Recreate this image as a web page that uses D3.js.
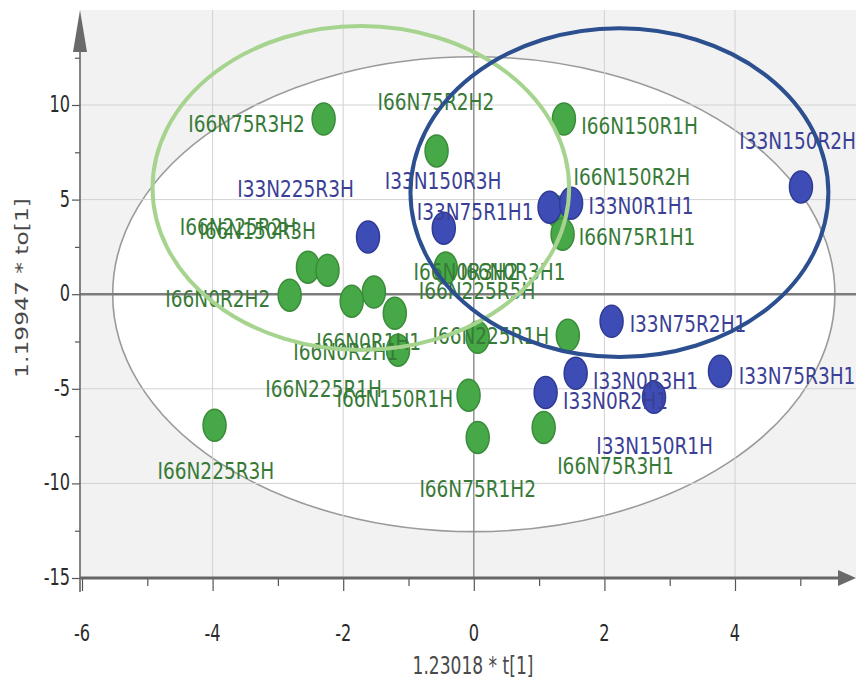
<!DOCTYPE html>
<html><head><meta charset="utf-8">
<script src="https://cdn.jsdelivr.net/npm/d3@7"></script>
<style>body{margin:0;background:#fff}svg{display:block}</style>
</head><body>
<svg id="chart" width="856" height="697"></svg>
<script>
// ---------- data (score values t[1], to[1]) ----------
const greenNames = ["I66N75R3H2","I66N75R2H2","I66N150R1H","I66N150R2H","I66N75R1H1","I66N225R2H","I66N150R3H","I66N0R2H2","I66N0R2H1","I66N0R1H1","I66N225R5H","I66N225R1H","I66N0R3H2","I66N225R1H","I66N0R3H1","I66N150R1H","I66N75R1H2","I66N75R3H1","I66N225R3H"];
const greenT = [-2.30,-0.57,1.38,1.29,1.36,-2.54,-2.24,-2.82,-1.87,-1.53,-1.21,-1.16,-0.43,0.06,1.44,-0.08,0.06,1.07,-3.97];
const greenO = [9.26,7.57,9.26,4.34,3.17,1.43,1.27,-0.05,-0.37,0.11,-1.01,-2.96,1.38,-2.28,-2.17,-5.34,-7.57,-7.04,-6.93];
const greenLabelT = [-3.48,-0.58,2.54,2.42,2.50,-3.61,-3.31,-3.92,-1.96,-1.61,0.05,-2.30,-0.12,0.26,0.60,-1.21,0.06,2.17,-3.95];
const greenLabelO = [8.94,10.11,8.84,6.14,2.96,3.49,3.28,-0.32,-3.12,-2.59,0.11,-5.08,1.11,-2.28,1.11,-5.61,-10.37,-9.15,-9.42];

const blueNames = ["I33N150R2H","I33N225R3H","I33N150R3H","I33N75R1H1","I33N0R1H1","I33N75R2H1","I33N75R3H1","I33N0R3H1","I33N0R2H1","I33N150R1H"];
const blueT = [5.01,-1.62,-0.46,1.16,1.49,2.11,3.77,1.56,1.10,2.76];
const blueO = [5.66,3.02,3.49,4.60,4.81,-1.43,-4.07,-4.18,-5.19,-5.45];
const blueLabelT = [4.96,-2.73,-0.47,0.02,2.56,3.28,4.95,2.63,2.17,2.77];
const blueLabelO = [8.04,5.50,5.93,4.29,4.60,-1.64,-4.39,-4.66,-5.71,-8.10];

const xTicks = [-6,-4,-2,0,2,4];
const xMinorTicks = [-5,-3,-1,1,3,5];
const yTicks = [-15,-10,-5,0,5,10];
const yMinorTicks = [-12.5,-7.5,-2.5,2.5,7.5,12.5];
const xTitle = "1.23018 * t[1]";
const yTitle = "1.19947 * to[1]";
// Hotelling T2 ellipse semi-axes (t, to)
const hotellingT = 5.53, hotellingO = 12.55;
// group annotation ellipses: centre t, centre to, semi-axis t, semi-axis to
const groupCT = [-1.73, 2.23];
const groupCO = [5.61, 5.37];
const groupRT = [3.19, 3.20];
const groupRO = [8.56, 8.69];
const groupColors = ["#a6d48f", "#2c4f8f"];

// ---------- layout ----------
const pLeft = 80, pTop = 10, pRight = 856, pBottom = 578;
const svg = d3.select("#chart");
const x = d3.scaleLinear().domain([-6, 4]).range([82, 735]);
const y = d3.scaleLinear().domain([-15, 10]).range([578, 105]);
const FONT = "DejaVu Sans, Verdana, sans-serif";

const defs = svg.append("defs");
defs.append("clipPath").attr("id","plotclip").append("rect")
  .attr("x", pLeft).attr("y", pTop).attr("width", pRight-pLeft).attr("height", pBottom-pTop);

svg.append("rect").attr("x", pLeft).attr("y", pTop).attr("width", pRight-pLeft).attr("height", pBottom-pTop)
  .attr("fill", "#f2f2f2");

const plot = svg.append("g").attr("clip-path","url(#plotclip)");

// Hotelling ellipse
plot.append("ellipse")
  .attr("cx", x(0)).attr("cy", y(0))
  .attr("rx", x(hotellingT) - x(0)).attr("ry", y(0) - y(hotellingO))
  .attr("fill", "#ffffff").attr("stroke", "#9a9a9a").attr("stroke-width", 1.6);

// grid
plot.selectAll(".vg").data(xTicks.filter(d => d !== 0 && d !== -6)).join("line")
  .attr("x1", d => x(d)).attr("x2", d => x(d)).attr("y1", pTop).attr("y2", pBottom)
  .attr("stroke", "#d2d2d2").attr("stroke-width", 1);
plot.selectAll(".hg").data(yTicks.filter(d => d !== 0 && d !== -15)).join("line")
  .attr("x1", pLeft).attr("x2", pRight).attr("y1", d => y(d)).attr("y2", d => y(d))
  .attr("stroke", "#d2d2d2").attr("stroke-width", 1);
plot.append("line").attr("x1", x(0)).attr("x2", x(0)).attr("y1", pTop).attr("y2", pBottom)
  .attr("stroke", "#8a8a8a").attr("stroke-width", 1.4);
plot.append("line").attr("x1", pLeft).attr("x2", pRight).attr("y1", y(0)).attr("y2", y(0))
  .attr("stroke", "#7c7c7c").attr("stroke-width", 2.4);

// axes ticks
const xAxisG = svg.append("g").attr("transform", `translate(0,${pBottom})`)
  .call(d3.axisBottom(x).tickValues(xTicks).tickSize(13).tickFormat(""));
const xMinorG = svg.append("g").attr("transform", `translate(0,${pBottom})`)
  .call(d3.axisBottom(x).tickValues(xMinorTicks).tickSize(8).tickFormat(""));
const yAxisG = svg.append("g").attr("transform", `translate(${pLeft},0)`)
  .call(d3.axisLeft(y).tickValues(yTicks).tickSize(8).tickFormat(""));
const yMinorG = svg.append("g").attr("transform", `translate(${pLeft},0)`)
  .call(d3.axisLeft(y).tickValues(yMinorTicks).tickSize(5).tickFormat(""));
[xAxisG, xMinorG, yAxisG, yMinorG].forEach(g => {
  g.select(".domain").remove();
  g.selectAll(".tick line").attr("stroke", "#555").attr("stroke-width", 1.2);
});

// axis lines with arrows
svg.append("line").attr("x1", pLeft).attr("x2", 840).attr("y1", pBottom).attr("y2", pBottom)
  .attr("stroke", "#666").attr("stroke-width", 3);
svg.append("path").attr("d", `M838,${pBottom-8} L856,${pBottom} L838,${pBottom+8} Z`).attr("fill", "#6a6a6a");
svg.append("line").attr("x1", pLeft).attr("x2", pLeft).attr("y1", 48).attr("y2", 592)
  .attr("stroke", "#666").attr("stroke-width", 1.6);
svg.append("path").attr("d", `M${pLeft-7},52 L${pLeft},10 L${pLeft+7},52 Z`).attr("fill", "#6a6a6a");

// tick labels
svg.selectAll(".xtl").data(xTicks).join("text")
  .attr("transform", d => `translate(${x(d)},641) scale(0.95,1.35)`)
  .attr("text-anchor", "middle").attr("font-family", FONT).attr("font-size", 17)
  .attr("fill", "#2a2a2a").text(d => String(d));
svg.selectAll(".ytl").data(yTicks).join("text")
  .attr("transform", d => `translate(70,${y(d)+7}) scale(0.95,1.35)`)
  .attr("text-anchor", "end").attr("font-family", FONT).attr("font-size", 17)
  .attr("fill", "#2a2a2a").text(d => String(d));

// titles
svg.append("text").attr("transform", "translate(473,674) scale(0.95,1.35)")
  .attr("text-anchor", "middle").attr("font-family", FONT).attr("font-size", 18)
  .attr("fill", "#4a4a4a").text(xTitle);
svg.append("text").attr("transform", "translate(28,288) rotate(-90) scale(1.3,1.0)")
  .attr("text-anchor", "middle").attr("font-family", FONT).attr("font-size", 18)
  .attr("fill", "#4a4a4a").text(yTitle);

// points
const PR = 11.5, PRY = 16;
const greenData = greenNames.map((n,i) => ({n, t: greenT[i], o: greenO[i], lt: greenLabelT[i], lo: greenLabelO[i]}));
const blueData = blueNames.map((n,i) => ({n, t: blueT[i], o: blueO[i], lt: blueLabelT[i], lo: blueLabelO[i]}));

plot.selectAll(".gp").data(greenData).join("ellipse")
  .attr("cx", d => x(d.t)).attr("cy", d => y(d.o)).attr("rx", PR).attr("ry", PRY)
  .attr("fill", "#47a847").attr("stroke", "#3a8c3a").attr("stroke-width", 1.5);
plot.selectAll(".bp").data(blueData).join("ellipse")
  .attr("cx", d => x(d.t)).attr("cy", d => y(d.o)).attr("rx", PR).attr("ry", PRY)
  .attr("fill", "#3d4db5").attr("stroke", "#2f3b94").attr("stroke-width", 1.5);

// labels
function labels(data, color) {
  plot.selectAll(null).data(data).join("text")
    .attr("transform", d => `translate(${x(d.lt)},${y(d.lo)+7}) scale(1,1.25)`)
    .attr("text-anchor", "middle").attr("font-family", FONT).attr("font-size", 18.5)
    .attr("fill", color).text(d => d.n);
}
labels(greenData, "#377a37");
labels(blueData, "#3b3f96");

// group annotation ellipses
svg.selectAll(".grp").data(groupCT.map((c,i) => ({ct: c, co: groupCO[i], rt: groupRT[i], ro: groupRO[i], col: groupColors[i]})))
  .join("ellipse")
  .attr("cx", d => x(d.ct)).attr("cy", d => y(d.co))
  .attr("rx", d => x(d.ct + d.rt) - x(d.ct)).attr("ry", d => y(d.co - d.ro) - y(d.co))
  .attr("fill", "none").attr("stroke", d => d.col).attr("stroke-width", 4);
</script>
</body></html>
